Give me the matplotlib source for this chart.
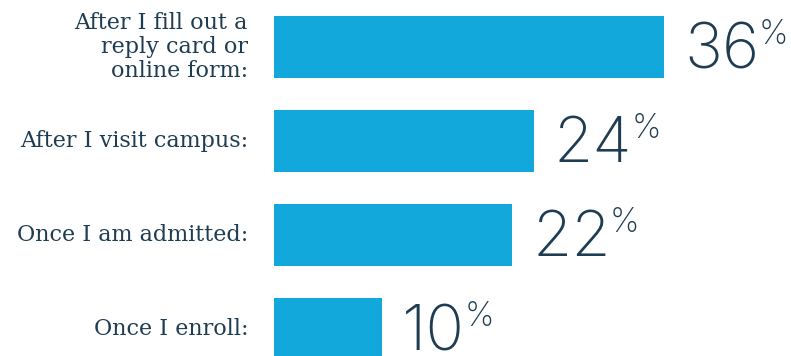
import matplotlib.pyplot as plt

labels = ["After I fill out a\nreply card or\nonline form:",
          "After I visit campus:",
          "Once I am admitted:",
          "Once I enroll:"]
values = [36, 24, 22, 10]

BAR_COLOR = "#12a8dc"
TEXT_COLOR = "#1f3d52"

W, H = 791, 356
fig = plt.figure(figsize=(W / 100, H / 100), dpi=100)
left = 274 / W
ax = fig.add_axes([left, 0, 1 - left, 1])

pos = list(range(len(values)))
ax.barh(pos, values, height=0.66, color=BAR_COLOR)
ax.set_xlim(0, (W - 274) / 10.83)
ax.set_ylim(3 + (H - 329) / 94, -0.5)
ax.axis("off")

for p, lab, v in zip(pos, labels, values):
    ax.annotate(lab, xy=(0, p), xytext=(-26, 0), textcoords="offset pixels",
                ha="right", va="center", fontsize=16, family="DejaVu Serif",
                color=TEXT_COLOR, linespacing=1.1)
    num = ax.annotate(str(v), xy=(v, p), xytext=(20, -5), textcoords="offset pixels",
                      ha="left", va="center", fontsize=46, family="Inter",
                      fontweight=200, color=TEXT_COLOR)
    ax.annotate("%", xy=(1.0, 1.0), xycoords=num, xytext=(-1, 3),
                textcoords="offset pixels", ha="left", va="top",
                fontsize=24, family="Inter", fontweight=200, color=TEXT_COLOR)

fig.savefig("out.png", dpi=100)
